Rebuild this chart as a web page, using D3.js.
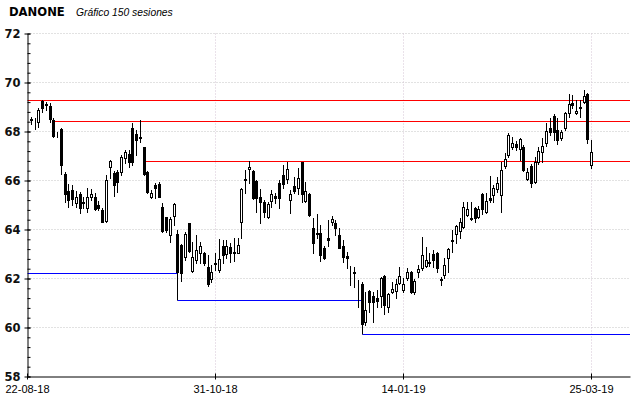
<!DOCTYPE html>
<html>
<head>
<meta charset="utf-8">
<script src="https://d3js.org/d3.v7.min.js"></script>
<style>
body { margin: 0; background: #fff; }
svg { display: block; }
</style>
</head>
<body>
<script>
var width = 640,
    height = 398;

// sesiones 0..149 (22-08-18 .. 25-03-19)
var open = [68.43, 68.41, 68.35, 69.22, 69.10, 69.02, 68.45, 67.88, 68.08, 66.25,
    65.56, 65.58, 65.05, 65.43, 65.12, 64.87, 65.29, 65.29, 64.98, 64.78,
    64.34, 66.52, 66.27, 66.31, 66.31, 66.88, 67.05, 68.11, 67.88, 67.74,
    67.33, 66.31, 65.29, 65.80, 65.82, 64.91, 64.47, 63.76, 64.54, 63.80,
    63.35, 62.87, 64.23, 62.30, 62.74, 63.00, 63.00, 62.46, 61.95, 62.60,
    62.33, 63.30, 62.98, 63.28, 63.05, 63.03, 64.27, 66.04, 66.44, 66.37,
    65.96, 65.32, 65.09, 64.50, 65.14, 65.36, 65.86, 66.20, 66.04, 65.18,
    65.75, 65.66, 66.72, 65.14, 65.42, 64.05, 63.85, 63.85, 63.24, 63.65,
    64.27, 64.26, 63.76, 63.32, 62.90, 62.30, 62.24, 61.65, 61.74, 60.20,
    61.47, 61.27, 61.17, 61.28, 62.08, 60.83, 61.44, 61.47, 61.78, 61.50,
    61.99, 62.23, 61.44, 62.23, 62.42, 62.50, 62.66, 62.96, 63.01, 61.95,
    62.12, 62.80, 63.56, 63.80, 63.93, 64.10, 64.57, 64.46, 64.84, 64.50,
    65.43, 64.68, 65.26, 65.39, 65.63, 65.39, 66.57, 67.02, 67.36, 67.46,
    67.25, 67.36, 66.04, 66.57, 65.90, 66.72, 67.16, 67.50, 68.11, 68.63,
    68.04, 67.73, 68.11, 68.72, 69.13, 68.72, 68.98, 69.20, 69.51, 66.61];

var high = [68.58, 68.54, 68.93, 69.27, 69.20, 69.13, 68.52, 67.97, 68.11, 66.31,
    65.82, 65.80, 65.55, 65.52, 65.32, 65.66, 65.62, 65.46, 65.14, 64.84,
    66.20, 66.82, 66.37, 66.41, 67.02, 67.22, 67.22, 68.31, 68.04, 68.45,
    67.36, 66.37, 65.60, 65.86, 65.90, 65.05, 64.50, 64.47, 65.07, 63.96,
    63.39, 63.87, 64.26, 63.48, 63.75, 63.48, 63.07, 62.94, 62.53, 63.00,
    63.58, 63.55, 63.55, 63.42, 63.62, 63.62, 65.66, 66.41, 66.78, 66.41,
    66.00, 65.63, 65.18, 65.12, 65.60, 65.46, 66.00, 66.61, 66.72, 65.60,
    66.14, 66.48, 66.75, 65.93, 65.46, 64.44, 64.60, 64.16, 63.32, 64.37,
    64.55, 64.37, 64.03, 63.55, 63.07, 62.50, 62.46, 61.92, 61.85, 61.44,
    61.51, 61.44, 61.51, 62.06, 62.12, 61.38, 61.82, 61.96, 62.46, 62.00,
    62.40, 62.30, 61.95, 62.53, 63.69, 63.28, 63.00, 63.14, 63.08, 62.06,
    62.80, 63.21, 63.96, 64.16, 64.44, 65.09, 65.09, 65.12, 64.91, 64.95,
    65.46, 65.46, 66.18, 65.80, 66.14, 66.75, 67.09, 67.90, 67.77, 67.59,
    67.73, 67.43, 66.50, 66.64, 66.95, 67.36, 67.70, 68.31, 68.52, 68.68,
    68.52, 68.04, 68.76, 69.50, 69.47, 69.27, 69.27, 69.67, 69.54, 67.63];

var low = [68.27, 68.07, 68.18, 68.76, 68.86, 68.38, 67.77, 67.77, 66.23, 65.12,
    64.91, 64.98, 64.91, 64.64, 64.87, 64.68, 65.18, 64.78, 64.78, 64.27,
    64.30, 66.07, 65.36, 65.50, 66.20, 66.68, 66.54, 66.61, 67.02, 67.56,
    66.20, 65.46, 65.25, 65.25, 65.29, 63.89, 63.86, 63.48, 64.16, 61.51,
    61.88, 62.74, 63.08, 62.26, 62.60, 62.60, 62.53, 61.69, 61.85, 62.33,
    62.26, 62.60, 62.80, 62.67, 62.70, 63.00, 63.62, 65.46, 65.87, 65.22,
    64.68, 64.23, 64.50, 64.46, 64.91, 65.05, 64.87, 65.69, 65.87, 64.64,
    65.46, 65.42, 65.09, 65.09, 64.55, 63.01, 63.62, 62.70, 62.77, 63.32,
    64.16, 63.76, 63.21, 62.64, 62.40, 61.71, 61.62, 60.83, 60.08, 60.08,
    60.63, 60.20, 60.83, 60.83, 60.52, 60.63, 61.37, 61.17, 61.74, 61.42,
    61.90, 61.40, 61.35, 62.06, 62.33, 62.45, 62.50, 62.46, 62.26, 61.72,
    61.99, 62.23, 63.08, 63.42, 63.62, 64.03, 64.55, 64.37, 64.30, 64.44,
    64.60, 64.64, 65.12, 65.12, 65.53, 64.71, 66.50, 66.95, 67.27, 67.23,
    66.82, 66.37, 66.00, 65.73, 65.87, 66.64, 66.72, 67.40, 67.84, 67.63,
    67.46, 67.63, 68.04, 68.59, 68.93, 68.70, 68.59, 69.13, 67.52, 66.48];

var close = [68.47, 68.39, 68.86, 68.93, 69.05, 68.49, 67.81, 67.86, 66.60, 65.44,
    65.18, 65.22, 65.32, 64.84, 65.05, 65.29, 65.43, 64.80, 64.84, 64.30,
    66.00, 66.77, 65.80, 65.90, 66.93, 67.13, 66.72, 66.75, 67.63, 67.70,
    66.25, 65.50, 65.46, 65.66, 65.32, 63.92, 63.96, 64.41, 65.03, 62.26,
    62.19, 63.80, 63.11, 62.87, 63.14, 63.32, 62.60, 61.74, 62.26, 62.56,
    62.76, 62.94, 63.32, 63.00, 63.03, 63.35, 65.62, 66.00, 66.54, 65.25,
    65.25, 65.09, 64.71, 65.02, 65.41, 65.28, 65.28, 65.82, 66.45, 65.43,
    65.55, 66.10, 65.42, 65.55, 64.57, 63.42, 63.78, 62.94, 62.80, 63.55,
    64.41, 64.05, 63.24, 62.87, 62.80, 62.28, 62.22, 61.62, 60.12, 60.70,
    61.03, 61.03, 61.06, 62.01, 60.90, 61.33, 61.55, 61.75, 62.10, 61.76,
    62.26, 61.44, 61.89, 62.37, 62.94, 62.75, 62.60, 62.72, 62.42, 61.90,
    62.53, 63.18, 63.52, 64.12, 64.30, 64.88, 64.82, 64.41, 64.44, 64.82,
    64.82, 65.16, 65.20, 65.69, 65.89, 66.40, 66.86, 67.84, 67.50, 67.35,
    67.67, 66.41, 66.34, 65.86, 66.72, 67.18, 67.39, 68.01, 67.95, 67.95,
    67.65, 67.95, 68.72, 69.10, 69.06, 68.82, 68.93, 69.43, 67.66, 67.13];

var tickSessions = [-1, 49, 99, 149],
    tickLabels = ['22-08-18', '31-10-18', '14-01-19', '25-03-19'];

var resistance = [69.25, 68.41, 66.76],
    resistanceFrom = [-1, 6, 30];

var support = [62.2, 61.12, 59.7],
    supportFrom = [-1, 39, 88];

var yTicks = [58, 60, 62, 64, 66, 68, 70, 72];


var x = d3.scaleLinear().domain([-1, 159.2]).range([27.5, 630]),
    y = d3.scaleLinear().domain([58, 72]).range([376.5, 33.5]);

function cx(i) { return Math.floor(x(i)) + 0.5; }
function py(v) { return Math.round(y(v) - 0.5) + 0.5; }

var svg = d3.select('body').append('svg')
    .attr('width', width)
    .attr('height', height)
    .style('font-family', 'DejaVu Sans, Verdana, sans-serif');

// titulo
svg.append('text')
    .attr('x', 9)
    .attr('y', 16)
    .attr('font-weight', 'bold')
    .attr('font-size', '11.6px')
    .attr('fill', '#000')
    .text('DANONE');

svg.append('text')
    .attr('x', 76)
    .attr('y', 16)
    .attr('font-family', 'Liberation Sans, Arial, sans-serif')
    .attr('font-style', 'italic')
    .attr('font-size', '10.3px')
    .attr('fill', '#000')
    .text('Gráfico 150 sesiones');

// rejilla
var grid = svg.append('g');

grid.selectAll('line.h')
    .data(yTicks.slice(1))
    .enter().append('line')
    .attr('class', 'h')
    .attr('x1', x(-1))
    .attr('x2', 630)
    .attr('y1', py)
    .attr('y2', py)
    .attr('stroke', '#c4c4c4')
    .attr('stroke-dasharray', '1,2');

grid.selectAll('line.v')
    .data(tickSessions.slice(1))
    .enter().append('line')
    .attr('class', 'v')
    .attr('x1', cx)
    .attr('x2', cx)
    .attr('y1', y(72))
    .attr('y2', y(58))
    .attr('stroke', '#d4c4d4')
    .attr('stroke-dasharray', '1,2');

// niveles
var levels = svg.append('g');

levels.selectAll('line.res')
    .data(resistance)
    .enter().append('line')
    .attr('class', 'res')
    .attr('x1', function(d, i) { return resistanceFrom[i] < 0 ? x(-1) : cx(resistanceFrom[i]) + 1; })
    .attr('x2', 630)
    .attr('y1', py)
    .attr('y2', py)
    .attr('stroke', '#ff0000');

levels.selectAll('line.sup')
    .data(support)
    .enter().append('line')
    .attr('class', 'sup')
    .attr('x1', function(d, i) { return supportFrom[i] < 0 ? x(-1) : cx(supportFrom[i]); })
    .attr('x2', function(d, i) { return i < support.length - 1 ? cx(supportFrom[i + 1]) : 630; })
    .attr('y1', py)
    .attr('y2', py)
    .attr('stroke', '#0000ff');

// escalones entre soportes
levels.selectAll('line.step')
    .data(support.slice(1))
    .enter().append('line')
    .attr('class', 'step')
    .attr('x1', function(d, i) { return cx(supportFrom[i + 1]); })
    .attr('x2', function(d, i) { return cx(supportFrom[i + 1]); })
    .attr('y1', function(d, i) { return py(support[i]); })
    .attr('y2', py)
    .attr('stroke', '#000');

// velas
var candles = svg.append('g')
    .selectAll('g')
    .data(d3.range(open.length))
    .enter().append('g');

candles.append('line')
    .attr('x1', cx)
    .attr('x2', cx)
    .attr('y1', function(i) { return py(high[i]) - 0.5; })
    .attr('y2', function(i) { return py(low[i]) + 0.5; })
    .attr('stroke', '#000');

candles.append('rect')
    .attr('x', function(i) { return cx(i) - 1; })
    .attr('width', 2)
    .attr('y', function(i) { return py(Math.max(open[i], close[i])); })
    .attr('height', function(i) { return Math.max(py(Math.min(open[i], close[i])) - py(Math.max(open[i], close[i])), 0); })
    .attr('fill', function(i) { return close[i] >= open[i] ? '#fff' : '#000'; })
    .attr('stroke', '#000');

// ejes
var yAxis = d3.axisLeft(y)
    .tickValues(yTicks)
    .tickSize(3)
    .tickSizeOuter(0)
    .tickPadding(4)
    .tickFormat(d3.format('d'));

var yMinor = d3.axisRight(y)
    .tickValues(d3.range(58, 72.01, 0.4))
    .tickSize(3)
    .tickSizeOuter(0)
    .tickFormat('');

var gy = svg.append('g')
    .attr('transform', 'translate(' + x(-1) + ',0)')
    .call(yAxis);
gy.selectAll('text')
    .attr('font-family', 'DejaVu Sans, Verdana, sans-serif')
    .attr('font-weight', 'bold')
    .attr('font-size', '11.5px')
    .attr('fill', '#111')
    .attr('dy', '0.34em');
gy.selectAll('.tick line').attr('x2', 3).attr('x1', -3);

svg.append('g')
    .attr('transform', 'translate(' + x(-1) + ',0)')
    .call(yMinor)
    .select('.domain').remove();

var xAxis = d3.axisBottom(x)
    .tickValues(tickSessions)
    .tickSize(3)
    .tickSizeOuter(0)
    .tickPadding(6)
    .tickFormat(function(d, i) { return tickLabels[i]; });

var gx = svg.append('g')
    .attr('transform', 'translate(0,' + y(58) + ')')
    .call(xAxis);
gx.selectAll('.tick line').attr('y1', -3);
gx.selectAll('.tick').attr('transform', function(d) { return 'translate(' + cx(d) + ',0)'; });
gx.selectAll('text')
    .attr('font-family', 'Liberation Sans, Arial, sans-serif')
    .attr('font-size', '11px')
    .attr('fill', '#000');

svg.selectAll('.domain').attr('stroke', '#000');
</script>
</body>
</html>
